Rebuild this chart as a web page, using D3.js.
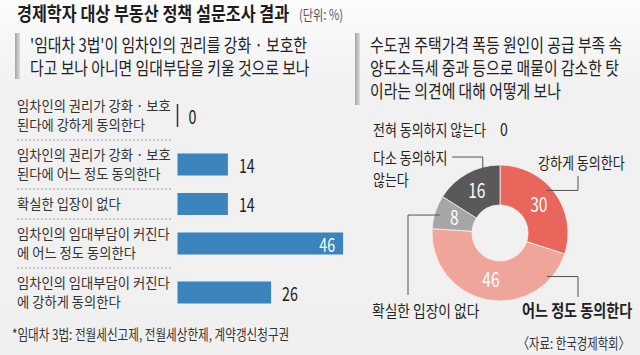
<!DOCTYPE html>
<html>
<head>
<meta charset="utf-8">
<script src="https://cdn.jsdelivr.net/npm/d3@7"></script>
<style>
  html, body { margin: 0; padding: 0; background: #f1f1f1; }
  svg { display: block; font-family: "Noto Sans CJK KR", "Noto Sans", sans-serif; }
</style>
</head>
<body>
<div id="chart"></div>
<script>
// Data
const title = '경제학자 대상 부동산 정책 설문조사 결과';
const unitText = '(단위: %)';

const barQuestion = ["'임대차 3법'이 임차인의 권리를 강화 · 보호한", '다고 보나 아니면 임대부담을 키울 것으로 보나'];
const barLabels = [
    ['임차인의 권리가 강화 · 보호', '된다에 강하게 동의한다'],
    ['임차인의 권리가 강화 · 보호', '된다에 어느 정도 동의한다'],
    ['확실한 입장이 없다'],
    ['임차인의 임대부담이 커진다', '에 어느 정도 동의한다'],
    ['임차인의 임대부담이 커진다', '에 강하게 동의한다']
];
const barValues = [0, 14, 14, 46, 26];
const footnote = '*임대차 3법: 전월세신고제, 전월세상한제, 계약갱신청구권';

const pieQuestion = ['수도권 주택가격 폭등 원인이 공급 부족 속', '양도소득세 중과 등으로 매물이 감소한 탓', '이라는 의견에 대해 어떻게 보나'];
const pieLabels = ['강하게 동의한다', '어느 정도 동의한다', '확실한 입장이 없다', '다소 동의하지 않는다'];
const pieValues = [30, 46, 8, 16];
const pieColors = ['#e8665c', '#f0a59b', '#a6a6a6', '#595959'];
const zeroLabel = '전혀 동의하지 않는다';
const zeroValue = 0;
const source = '〈자료: 한국경제학회〉';

const width = 640, height = 355;

const svg = d3.select('#chart')
    .append('svg')
    .attr('width', width)
    .attr('height', height);

// Background with a light top
const defs = svg.append('defs');
const bg = defs.append('linearGradient').attr('id', 'bg').attr('x1', 0).attr('y1', 0).attr('x2', 0).attr('y2', 1);
bg.append('stop').attr('offset', 0).attr('stop-color', '#fcfcfc');
bg.append('stop').attr('offset', 0.25).attr('stop-color', '#f1f1f1');
bg.append('stop').attr('offset', 1).attr('stop-color', '#f0f0f0');
const accent = defs.append('linearGradient').attr('id', 'accent').attr('x1', 0).attr('y1', 0).attr('x2', 1).attr('y2', 0);
accent.append('stop').attr('offset', 0).attr('stop-color', '#a4a4a4');
accent.append('stop').attr('offset', 1).attr('stop-color', '#dedede');

svg.append('rect').attr('width', width).attr('height', height).attr('fill', 'url(#bg)');

// Condensed text helper
function label(g, x, y, text, o) {
    return g.append('text')
        .attr('transform', `translate(${x},${y}) scale(${o.sx || 0.78},1)`)
        .attr('font-size', o.size)
        .attr('font-weight', o.weight || 400)
        .attr('fill', o.fill || '#333')
        .attr('text-anchor', o.anchor || 'start')
        .text(text);
}

// Title
label(svg, 17, 20.5, title, { size: 19, weight: 700, fill: '#1e1e1e', sx: 0.855 });
label(svg, 299, 19.5, unitText, { size: 14, fill: '#555', sx: 0.8 });

// Question headers
svg.append('rect').attr('x', 15).attr('y', 33).attr('width', 5).attr('height', 46).attr('fill', 'url(#accent)');
barQuestion.forEach((t, i) => label(svg, 30, 52 + i * 23, t, { size: 18, fill: '#222', sx: 0.825 }));

svg.append('rect').attr('x', 355).attr('y', 33).attr('width', 5).attr('height', 72).attr('fill', 'url(#accent)');
pieQuestion.forEach((t, i) => label(svg, 370, 52 + i * 23, t, { size: 18, fill: '#222', sx: 0.825 }));

// ---- Bar chart ----
const xScale = d3.scaleLinear()
    .domain([0, 50])
    .range([177.5, 357.5]);

let rowTop = 91;
const rows = barLabels.map((lines, i) => {
    const h = lines.length > 1 ? 49 : 30;
    const r = { lines, value: barValues[i], top: rowTop, c: rowTop + h / 2 };
    rowTop += h;
    return r;
});

const barG = svg.append('g');

// dashed separators
barG.selectAll('.sep')
    .data(rows.slice(1))
    .enter()
    .append('line')
    .attr('x1', 17)
    .attr('x2', 172)
    .attr('y1', d => d.top)
    .attr('y2', d => d.top)
    .attr('stroke', '#9a9a9a')
    .attr('stroke-width', 1)
    .attr('stroke-dasharray', '2,2');

rows.forEach(r => {
    const n = r.lines.length;
    r.lines.forEach((t, j) => {
        const y = n > 1 ? r.c - 4.5 + j * 19 : r.c + 5;
        label(barG, 17, y, t, { size: 14, fill: '#333', sx: 0.95 });
    });

    if (r.value === 0) {
        barG.append('line')
            .attr('x1', xScale(0))
            .attr('x2', xScale(0))
            .attr('y1', r.c - 11.5)
            .attr('y2', r.c + 11.5)
            .attr('stroke', '#333')
            .attr('stroke-width', 1.5);
    } else {
        barG.append('rect')
            .attr('x', xScale(0))
            .attr('y', r.c - 11)
            .attr('width', xScale(r.value) - xScale(0))
            .attr('height', 22)
            .attr('fill', '#3b84bd');
    }

    const inside = r.value >= 40;
    label(barG, inside ? xScale(r.value) - 8 : xScale(r.value) + 11, r.c + 8, r.value, {
        size: 19,
        fill: inside ? '#fff' : '#222',
        anchor: inside ? 'end' : 'start',
        sx: 0.75
    });
});

label(svg, 12, 340, footnote, { size: 14.5, fill: '#333', sx: 0.8 });

// ---- Donut ----
const cx = 500, cy = 233;
const pie = d3.pie().sort(null).value(d => d);
const arcs = pie(pieValues);
const arc = d3.arc().innerRadius(28).outerRadius(68);
const labelArc = d3.arc().innerRadius(48).outerRadius(48);

const pieG = svg.append('g').attr('transform', `translate(${cx},${cy})`);

pieG.selectAll('path')
    .data(arcs)
    .enter()
    .append('path')
    .attr('d', arc)
    .attr('fill', (d, i) => pieColors[i])
    .attr('stroke', '#f2f2f2')
    .attr('stroke-width', 0.8);

arcs.forEach(d => {
    const [lx, ly] = labelArc.centroid(d);
    label(pieG, lx, ly + 7, d.data, { size: 20, fill: '#fff', anchor: 'middle', sx: 0.78 });
});

// Leader lines: anchor on a slice, then an elbow toward the text
const callouts = [
    { i: 0, frac: 0.44, r: 63, path: (p) => `M${p[0]},${p[1]}H578V176` },
    { i: 1, frac: 0.15, r: 64, path: (p) => `M${p[0]},${p[1]}H578V297` },
    { i: 2, frac: 0.45, r: 63, path: (p) => `M${p[0]},${p[1]}H408V295` },
    { i: 3, frac: 0.72, r: 62, path: (p) => `M${p[0]},${p[1]}V157H452` }
];

callouts.forEach(c => {
    const a = arcs[c.i];
    const ang = a.startAngle + (a.endAngle - a.startAngle) * c.frac;
    const p = d3.pointRadial(ang, c.r);
    svg.append('path')
        .attr('d', c.path([cx + p[0], cy + p[1]]))
        .attr('fill', 'none')
        .attr('stroke', '#555')
        .attr('stroke-width', 1);
});

label(svg, 538, 169, pieLabels[0], { size: 16, fill: '#222', sx: 0.815 });
label(svg, 522, 317, pieLabels[1], { size: 17, weight: 700, fill: '#222', sx: 0.83 });
label(svg, 372, 317, pieLabels[2], { size: 16, fill: '#222', sx: 0.86 });
label(svg, 373, 164, '다소 동의하지', { size: 16, fill: '#222', sx: 0.81 });
label(svg, 373, 186, '않는다', { size: 16, fill: '#222', sx: 0.81 });
label(svg, 373, 136, zeroLabel, { size: 16, fill: '#222', sx: 0.81 });
label(svg, 500, 136, zeroValue, { size: 18, fill: '#222', sx: 0.78 });

label(svg, 630, 349, source, { size: 15, fill: '#333', anchor: 'end', sx: 0.76 });
</script>
</body>
</html>
